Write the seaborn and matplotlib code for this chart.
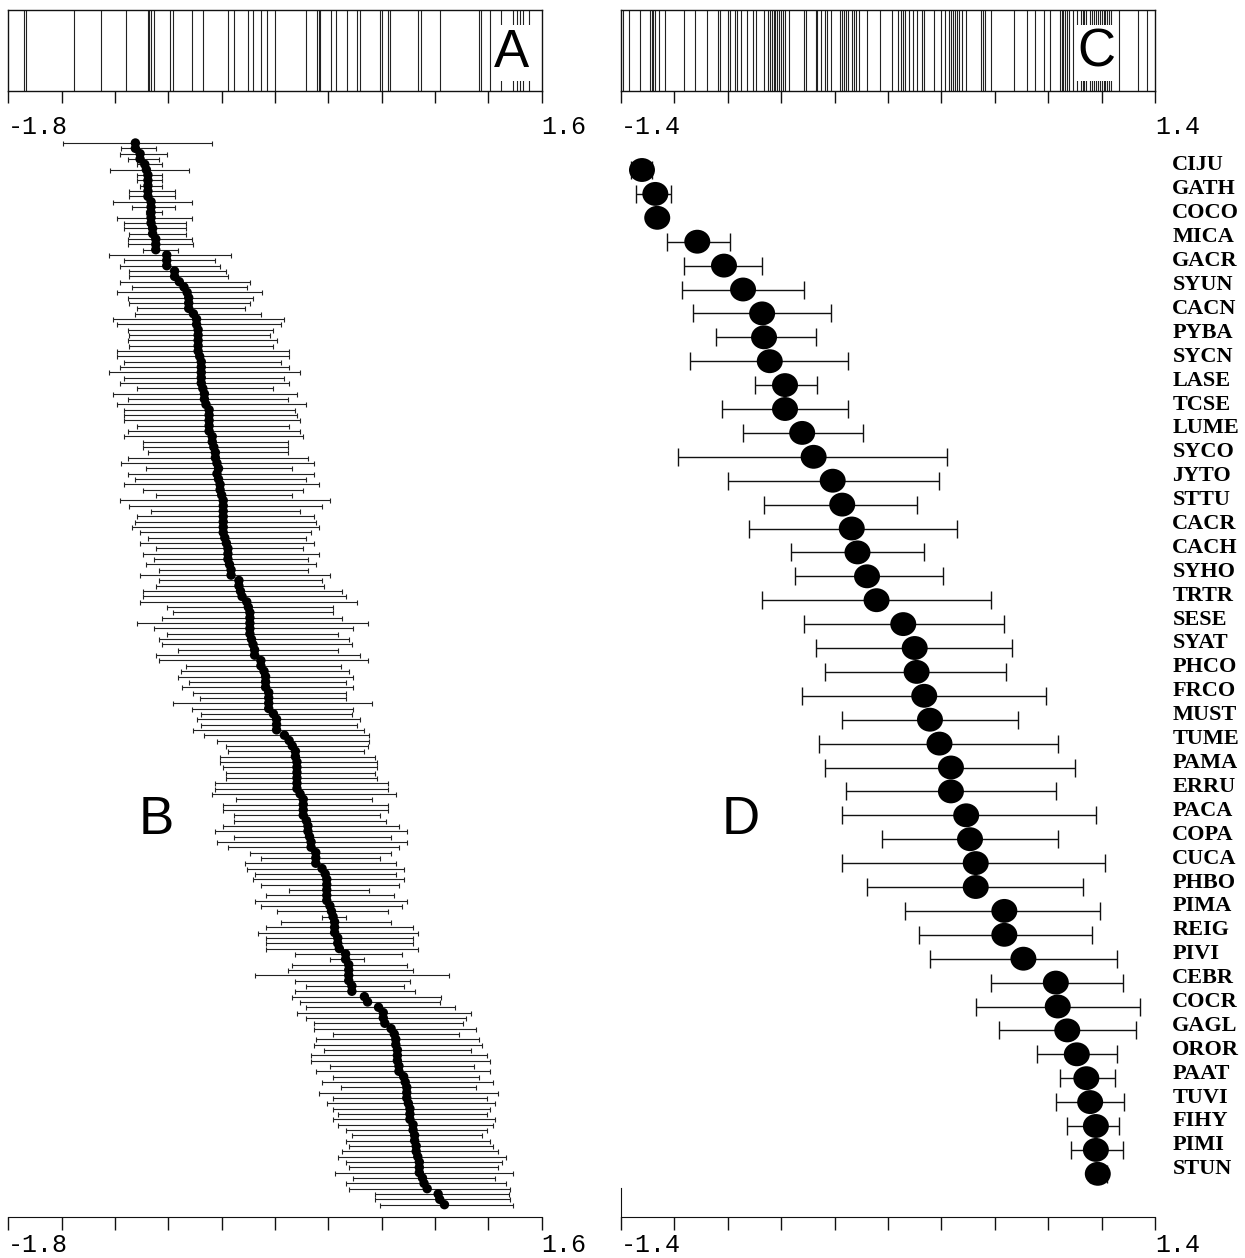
import numpy as np
import matplotlib
matplotlib.use("Agg")
import matplotlib.pyplot as plt
from matplotlib.path import Path
from matplotlib.transforms import ScaledTranslation
import seaborn as sns

# ---------------- data ----------------
# Panel A rug (values on -1.8 .. 1.6 scale)
rug_a = [-1.70, -1.69, -1.38, -1.21, -1.05, -0.91, -0.90, -0.89, -0.87, -0.77,
         -0.75, -0.63, -0.56, -0.40, -0.36, -0.27, -0.24, -0.19, -0.15, -0.10,
         0.10, 0.17, 0.18, 0.19, 0.26, 0.29, 0.36, 0.42, 0.44, 0.57, 0.58,
         0.62, 0.63, 0.81, 0.83, 0.95, 1.20, 1.21, 1.27, 1.34, 1.42, 1.44,
         1.46, 1.48, 1.52]

# Panel C rug (values on -1.4 .. 1.4 scale)
rug_c = [-1.39, -1.36, -1.30, -1.25, -1.24, -1.23, -1.22, -1.20, -1.17, -1.07,
         -1.01, -0.95, -0.89, -0.88, -0.84, -0.83, -0.80, -0.79, -0.77, -0.74,
         -0.71, -0.69, -0.65, -0.63, -0.62, -0.61, -0.60, -0.59, -0.58, -0.57,
         -0.56, -0.55, -0.54, -0.52, -0.44, -0.43, -0.38, -0.37, -0.35, -0.33,
         -0.32, -0.30, -0.25, -0.24, -0.23, -0.22, -0.21, -0.19, -0.18, -0.17,
         -0.15, -0.11, -0.04, 0.02, 0.05, 0.07, 0.08, 0.09, 0.11, 0.13, 0.15,
         0.18, 0.19, 0.24, 0.28, 0.30, 0.32, 0.33, 0.34, 0.35, 0.36, 0.37,
         0.39, 0.41, 0.49, 0.50, 0.51, 0.54, 0.66, 0.73, 0.77, 0.82, 0.85,
         0.90, 0.91, 0.92, 0.93, 0.94, 0.95, 0.97, 0.99, 1.01, 1.02, 1.03,
         1.04, 1.06, 1.07, 1.08, 1.09, 1.10, 1.11, 1.12, 1.13, 1.14, 1.15,
         1.16, 1.17, 1.21, 1.31, 1.36]

# Panel B: 200 estimates with intervals
b_mean = [-0.99, -0.99, -0.96, -0.96, -0.93, -0.92, -0.91, -0.91, -0.91, -0.91,
          -0.91, -0.89, -0.89, -0.89, -0.89, -0.89, -0.88, -0.88, -0.86, -0.86,
          -0.86, -0.79, -0.79, -0.79, -0.74, -0.74, -0.71, -0.68, -0.66, -0.65,
          -0.65, -0.65, -0.62, -0.60, -0.60, -0.59, -0.59, -0.59, -0.59, -0.59,
          -0.58, -0.57, -0.57, -0.57, -0.57, -0.57, -0.56, -0.55, -0.55, -0.54,
          -0.52, -0.52, -0.52, -0.52, -0.52, -0.50, -0.50, -0.49, -0.48, -0.48,
          -0.47, -0.46, -0.47, -0.46, -0.45, -0.45, -0.44, -0.43, -0.43, -0.43,
          -0.43, -0.43, -0.43, -0.43, -0.42, -0.41, -0.40, -0.40, -0.40, -0.39,
          -0.38, -0.38, -0.33, -0.33, -0.32, -0.31, -0.28, -0.27, -0.26, -0.26,
          -0.26, -0.26, -0.26, -0.25, -0.24, -0.23, -0.23, -0.19, -0.19, -0.17,
          -0.16, -0.16, -0.16, -0.14, -0.14, -0.14, -0.14, -0.11, -0.09, -0.09,
          -0.09, -0.04, -0.01, 0.01, 0.03, 0.03, 0.04, 0.04, 0.04, 0.04,
          0.04, 0.04, 0.06, 0.08, 0.08, 0.08, 0.08, 0.10, 0.11, 0.11,
          0.12, 0.13, 0.13, 0.16, 0.16, 0.16, 0.20, 0.22, 0.23, 0.23,
          0.23, 0.23, 0.23, 0.25, 0.26, 0.27, 0.28, 0.28, 0.28, 0.30,
          0.30, 0.31, 0.35, 0.35, 0.37, 0.37, 0.37, 0.37, 0.39, 0.39,
          0.47, 0.49, 0.56, 0.59, 0.59, 0.60, 0.64, 0.66, 0.67, 0.67,
          0.68, 0.68, 0.68, 0.69, 0.69, 0.72, 0.73, 0.74, 0.74, 0.74,
          0.75, 0.76, 0.76, 0.76, 0.78, 0.78, 0.79, 0.79, 0.80, 0.80,
          0.81, 0.82, 0.82, 0.82, 0.84, 0.85, 0.87, 0.94, 0.95, 0.98]
b_low = [-1.45, -1.08, -1.09, -1.04, -0.98, -1.15, -0.98, -0.98, -0.96, -1.03,
         -1.03, -1.13, -1.01, -0.92, -1.11, -1.06, -1.06, -1.03, -1.04, -1.04,
         -0.94, -1.16, -1.06, -1.09, -1.03, -1.03, -1.09, -1.01, -1.11, -1.04,
         -1.03, -0.98, -0.99, -1.13, -1.11, -1.04, -1.03, -1.04, -1.03, -1.11,
         -1.11, -1.06, -1.09, -1.16, -1.06, -1.09, -0.98, -1.13, -1.04, -1.11,
         -1.06, -1.06, -1.06, -0.98, -1.04, -1.06, -0.94, -0.94, -0.91, -1.04,
         -1.08, -0.92, -1.04, -0.99, -1.06, -0.94, -0.86, -1.09, -1.03, -0.89,
         -0.98, -0.99, -1.01, -0.96, -0.91, -0.96, -0.86, -0.94, -0.87, -0.92,
         -0.84, -0.96, -0.84, -0.86, -0.94, -0.94, -0.96, -0.79, -0.75, -0.82,
         -0.98, -0.87, -0.79, -0.84, -0.82, -0.72, -0.86, -0.84, -0.67, -0.70,
         -0.72, -0.65, -0.69, -0.62, -0.58, -0.75, -0.63, -0.57, -0.60, -0.57,
         -0.62, -0.55, -0.47, -0.41, -0.40, -0.45, -0.45, -0.43, -0.41, -0.41,
         -0.48, -0.48, -0.50, -0.35, -0.43, -0.43, -0.36, -0.36, -0.43, -0.48,
         -0.36, -0.47, -0.40, -0.26, -0.19, -0.29, -0.28, -0.23, -0.24, -0.19,
         -0.01, -0.16, -0.23, -0.19, -0.09, 0.20, -0.06, -0.16, -0.21, -0.16,
         -0.16, -0.16, 0.03, 0.25, 0.01, -0.02, -0.23, 0.03, 0.10, 0.03,
         0.01, 0.06, 0.10, 0.04, 0.10, 0.15, 0.15, 0.27, 0.16, 0.15,
         0.21, 0.13, 0.13, 0.25, 0.16, 0.27, 0.20, 0.32, 0.18, 0.27,
         0.23, 0.27, 0.30, 0.27, 0.30, 0.35, 0.39, 0.35, 0.37, 0.33,
         0.30, 0.35, 0.37, 0.28, 0.40, 0.35, 0.37, 0.54, 0.54, 0.57]
b_high = [-0.50, -0.86, -0.79, -0.84, -0.82, -0.65, -0.82, -0.82, -0.82, -0.74,
          -0.74, -0.63, -0.74, -0.82, -0.63, -0.67, -0.67, -0.67, -0.63, -0.62,
          -0.72, -0.38, -0.48, -0.45, -0.41, -0.40, -0.26, -0.28, -0.18, -0.24,
          -0.26, -0.29, -0.19, -0.04, -0.06, -0.11, -0.13, -0.09, -0.11, -0.01,
          -0.01, -0.06, -0.01, 0.06, -0.04, -0.01, -0.11, 0.04, -0.02, 0.10,
          0.03, 0.04, 0.06, -0.01, 0.06, 0.08, -0.02, -0.02, -0.02, 0.11,
          0.15, 0.01, 0.15, 0.10, 0.18, 0.08, 0.01, 0.25, 0.20, 0.06,
          0.15, 0.16, 0.18, 0.13, 0.10, 0.15, 0.08, 0.18, 0.11, 0.16,
          0.11, 0.25, 0.20, 0.21, 0.33, 0.35, 0.42, 0.27, 0.27, 0.33,
          0.49, 0.40, 0.30, 0.37, 0.39, 0.30, 0.44, 0.49, 0.32, 0.37,
          0.40, 0.35, 0.40, 0.35, 0.35, 0.52, 0.40, 0.39, 0.44, 0.42,
          0.47, 0.50, 0.50, 0.49, 0.47, 0.54, 0.55, 0.55, 0.54, 0.55,
          0.62, 0.62, 0.67, 0.52, 0.62, 0.62, 0.57, 0.61, 0.69, 0.74,
          0.64, 0.74, 0.69, 0.64, 0.57, 0.67, 0.72, 0.67, 0.72, 0.69,
          0.50, 0.66, 0.74, 0.71, 0.62, 0.35, 0.64, 0.78, 0.81, 0.78,
          0.78, 0.81, 0.71, 0.47, 0.74, 0.78, 1.01, 0.76, 0.72, 0.79,
          0.96, 0.95, 1.05, 1.15, 1.12, 1.10, 1.18, 1.07, 1.20, 1.22,
          1.15, 1.25, 1.27, 1.17, 1.27, 1.20, 1.29, 1.18, 1.32, 1.25,
          1.30, 1.27, 1.25, 1.30, 1.29, 1.25, 1.22, 1.27, 1.29, 1.32,
          1.37, 1.35, 1.32, 1.42, 1.30, 1.37, 1.40, 1.39, 1.40, 1.42]

# Panel D: species estimates with intervals
species = ["CIJU", "GATH", "COCO", "MICA", "GACR", "SYUN", "CACN", "PYBA",
           "SYCN", "LASE", "TCSE", "LUME", "SYCO", "JYTO", "STTU", "CACR",
           "CACH", "SYHO", "TRTR", "SESE", "SYAT", "PHCO", "FRCO", "MUST",
           "TUME", "PAMA", "ERRU", "PACA", "COPA", "CUCA", "PHBO", "PIMA",
           "REIG", "PIVI", "CEBR", "COCR", "GAGL", "OROR", "PAAT", "TUVI",
           "FIHY", "PIMI", "STUN"]
d_mean = [-1.29, -1.22, -1.21, -1.00, -0.86, -0.76, -0.66, -0.65, -0.62, -0.54,
          -0.54, -0.45, -0.39, -0.29, -0.24, -0.19, -0.16, -0.11, -0.06, 0.08,
          0.14, 0.15, 0.19, 0.22, 0.27, 0.33, 0.33, 0.41, 0.43, 0.46,
          0.46, 0.61, 0.61, 0.71, 0.88, 0.89, 0.94, 0.99, 1.04, 1.06,
          1.09, 1.09, 1.10]
d_low = [-1.35, -1.32, -1.21, -1.16, -1.07, -1.08, -1.02, -0.90, -1.04, -0.70,
         -0.87, -0.76, -1.10, -0.84, -0.65, -0.73, -0.51, -0.49, -0.66, -0.44,
         -0.38, -0.33, -0.45, -0.24, -0.36, -0.33, -0.22, -0.24, -0.03, -0.24,
         -0.11, 0.09, 0.16, 0.22, 0.54, 0.46, 0.58, 0.78, 0.90, 0.88,
         0.94, 0.96, 1.06]
d_high = [-1.24, -1.14, -1.21, -0.83, -0.66, -0.44, -0.30, -0.38, -0.21, -0.37,
          -0.21, -0.13, 0.31, 0.27, 0.15, 0.36, 0.19, 0.29, 0.54, 0.61,
          0.65, 0.62, 0.83, 0.68, 0.89, 0.98, 0.88, 1.09, 0.89, 1.14,
          1.02, 1.11, 1.07, 1.20, 1.23, 1.32, 1.30, 1.20, 1.19, 1.24,
          1.21, 1.23, 1.15]

# ---------------- layout ----------------
W, H = 1245, 1258
fig = plt.figure(figsize=(W / 100, H / 100), dpi=100)

MONO = ["Liberation Mono", "DejaVu Sans Mono"]
SERIF = ["Liberation Serif", "DejaVu Serif"]
SANS = ["Liberation Sans", "DejaVu Sans"]
INK = "#111111"


def px_axes(x0, y0, x1, y1):
    return fig.add_axes([x0 / W, 1 - y1 / H, (x1 - x0) / W, (y1 - y0) / H])


def style_xaxis(ax, lo, hi, ticklen, pad):
    ticks = np.linspace(lo, hi, 11)
    labels = [f"{lo:.1f}"] + [""] * 9 + [f"{hi:.1f}"]
    ax.set_xticks(ticks)
    ax.set_xticklabels(labels, fontfamily=MONO, fontsize=18)
    ax.tick_params(axis="x", direction="out", length=ticklen, width=1.0,
                   color=INK, pad=pad)
    for lbl in ax.get_xticklabels():
        lbl.set_horizontalalignment("left")
    ax.set_xlim(lo, hi)


def rug_panel(x0, x1, lo, hi, values, letter, letter_x):
    ax = px_axes(x0, 10, x1, 91)
    sns.rugplot(x=values, height=1, ax=ax, color="#222222", linewidth=0.8,
                expand_margins=False)
    ax.set_ylim(0, 1)
    ax.set_yticks([])
    for s in ax.spines.values():
        s.set_color(INK)
        s.set_linewidth(1.0)
    style_xaxis(ax, lo, hi, 8.5, 8.5)
    ax.text(letter_x, 0.47, letter, transform=ax.transAxes, ha="center",
            va="center", fontsize=38, fontfamily=SANS, color="black",
            bbox=dict(facecolor="white", edgecolor="none", pad=2), zorder=5)
    return ax


axA = rug_panel(8.3, 541.7, -1.8, 1.6, rug_a, "A", 0.944)
axC = rug_panel(621, 1155, -1.4, 1.4, rug_c, "C", 0.89)

# ---- Panel B ----
axB = px_axes(8.3, 138, 541.7, 1217)
rows_b = np.arange(len(b_mean))
bm = np.array(b_mean)
xerr_b = [np.maximum(bm - np.array(b_low), 0), np.maximum(np.array(b_high) - bm, 0)]
axB.errorbar(bm, rows_b, xerr=xerr_b, fmt="none", ecolor="#222222",
             elinewidth=0.8, capsize=1.8, capthick=0.8, zorder=1)
sns.scatterplot(x=bm, y=rows_b, ax=axB, color="black", s=46, marker="o",
                edgecolor="none", legend=False, zorder=3)
axB.set_ylim((1217 - 143) / 5.335, (138 - 143) / 5.335)
axB.set_yticks([])
for k in ("top", "left", "right"):
    axB.spines[k].set_visible(False)
axB.spines["bottom"].set_color(INK)
style_xaxis(axB, -1.8, 1.6, 9, 2.5)
axB.set_xlabel("")
axB.set_ylabel("")
fig.text(156 / W, 1 - 820 / H, "B", ha="center", va="center", fontsize=38,
         fontfamily=SANS)

# ---- Panel D ----
axD = px_axes(621, 138, 1155, 1217)
rows_d = np.arange(len(species))
dm = np.array(d_mean)
xerr_d = [np.maximum(dm - np.array(d_low), 0), np.maximum(np.array(d_high) - dm, 0)]
axD.errorbar(dm, rows_d, xerr=xerr_d, fmt="none", ecolor=INK, elinewidth=1.0,
             capsize=6.8, capthick=1.0, zorder=1)
circ = Path.unit_circle()
ellipse = Path(circ.vertices * np.array([1.0, 0.92]), circ.codes)
sns.scatterplot(x=dm, y=rows_d, ax=axD, color="black", s=350, marker=ellipse,
                edgecolor="none", legend=False, zorder=3)
step = 23.9
axD.set_ylim((1217 - 170) / step, (138 - 170) / step)
axD.set_yticks(rows_d)
axD.set_yticklabels(species, fontfamily=SERIF, fontweight="bold", fontsize=16)
axD.yaxis.tick_right()
axD.tick_params(axis="y", length=0, pad=12.5, labelright=True, labelleft=False)
off = ScaledTranslation(0, 7 / 100, fig.dpi_scale_trans)
for lbl in axD.get_yticklabels():
    lbl.set_transform(lbl.get_transform() + off)
for k in ("top", "right"):
    axD.spines[k].set_visible(False)
axD.spines["left"].set_bounds((1188 - 170) / step, (1217 - 170) / step)
axD.spines["left"].set_color(INK)
axD.spines["bottom"].set_color(INK)
style_xaxis(axD, -1.4, 1.4, 9, 2.5)
axD.set_xlabel("")
axD.set_ylabel("")
fig.text(741 / W, 1 - 820 / H, "D", ha="center", va="center", fontsize=38,
         fontfamily=SANS)

fig.savefig("out.png", dpi=100, facecolor="white")
